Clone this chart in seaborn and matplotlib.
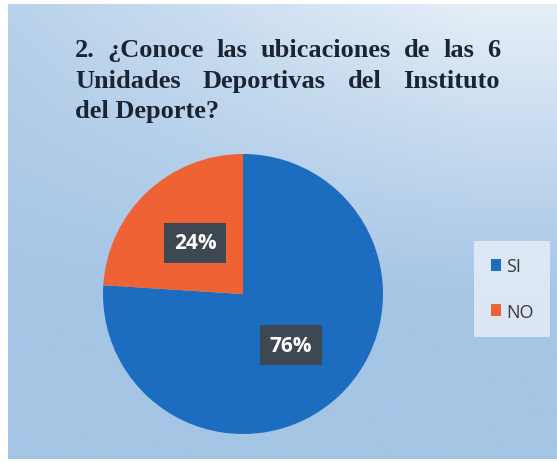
import numpy as np
import matplotlib
matplotlib.use("Agg")
import matplotlib.pyplot as plt
import seaborn as sns
from matplotlib.colors import to_rgb

# ---- data ----
categories = ["SI", "NO"]
values = [76, 24]
title_lines = ["2. ¿Conoce las ubicaciones de las 6",
               "Unidades Deportivas del Instituto",
               "del Deporte?"]

sns.set_theme(style="white")
plt.rcParams['font.family'] = ['Open Sans', 'DejaVu Sans']
colors = ["#1c6dbf", "#ee6234"]

W, H = 557, 464
fig = plt.figure(figsize=(W / 100, H / 100), dpi=100)
fig.patch.set_facecolor("white")

# background panel with gradient
bg = fig.add_axes([8 / W, 4 / H, 549 / W, 455 / H])
ny, nx = 120, 140
yy, xx = np.mgrid[0:1:ny * 1j, 0:1:nx * 1j]
light = np.array(to_rgb("#e6eff8"))
dark = np.array(to_rgb("#a5c5e5"))
L = np.clip(1 - yy * 1.5, 0, 1) ** 1.1 * np.clip(0.3 + 0.8 * xx, 0, 1)
L = np.clip(L, 0, 1)
img = dark[None, None, :] * (1 - L[..., None]) + light[None, None, :] * L[..., None]
bg.imshow(img, aspect="auto", extent=[0, 1, 0, 1], interpolation="bicubic")
bg.set_axis_off()

# title (justified for first two lines)
renderer = fig.canvas.get_renderer()
left_px, right_px = 75, 500
baselines = [57, 88, 118]
tprops = dict(family=["Liberation Serif", "DejaVu Serif"], fontweight="bold",
              fontsize=19, color="#1b2433")
for i, line in enumerate(title_lines):
    y = 1 - baselines[i] / H
    words = line.split(" ")
    if i < 2:
        objs = [fig.text(0, y, w, ha="left", va="baseline", **tprops) for w in words]
        widths = [o.get_window_extent(renderer).width for o in objs]
        gap = (right_px - left_px - sum(widths)) / (len(words) - 1)
        x = left_px
        for o, w in zip(objs, widths):
            o.set_x(x / W)
            x += w + gap
    else:
        fig.text(left_px / W, y, line, ha="left", va="baseline", **tprops)

# pie
cx, cy, r = 243, 295, 140
ax = fig.add_axes([(cx - r) / W, (H - cy - r) / H, 2 * r / W, 2 * r / H])
wedges, texts, autotexts = ax.pie(
    values, colors=colors, startangle=90, counterclock=False,
    autopct=lambda p: f"{p:.0f}%", pctdistance=0.5,
    textprops=dict(color="white", fontsize=15, fontweight="bold",
                   family=["Open Sans", "DejaVu Sans"]),
    wedgeprops=dict(linewidth=0))
for t in autotexts:
    t.set_bbox(dict(boxstyle="square,pad=0.45", facecolor="#3e4852", edgecolor="none"))
ax.set_xlim(-1, 1)
ax.set_ylim(-1, 1)
ax.set_aspect("equal")
ax.set_axis_off()

# legend
leg = fig.legend(wedges, categories, loc="center",
                 bbox_to_anchor=(512 / W, 1 - 290 / H),
                 frameon=True, handlelength=0.6, handleheight=0.6,
                 handletextpad=0.25, labelspacing=1.5, fontsize=13,
                 borderpad=0.9, borderaxespad=0, facecolor="#e4edf7", edgecolor="none",
                 fancybox=False, framealpha=0.85)
for t in leg.get_texts():
    t.set_color("#3a3a3a")

fig.savefig("out.png", dpi=100)
